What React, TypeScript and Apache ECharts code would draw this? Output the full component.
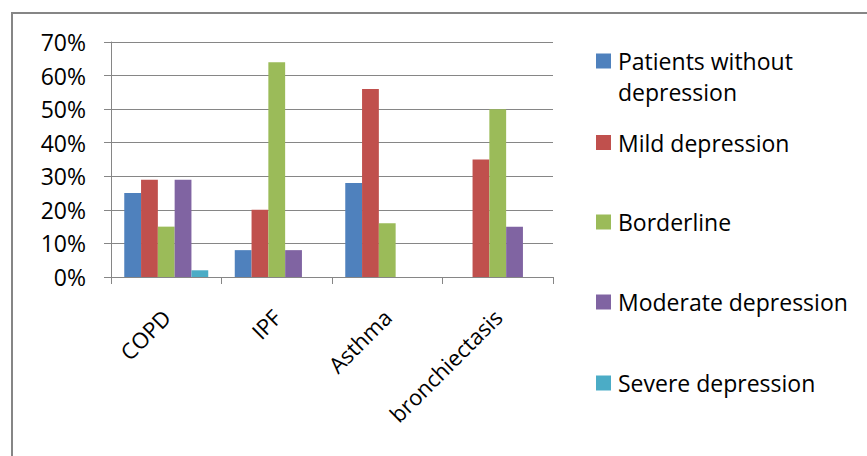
import React, { useEffect, useRef } from "react";
import * as echarts from "echarts";

const categories = ["COPD", "IPF", "Asthma", "bronchiectasis"];
const seriesNames = [
  "Patients without depression",
  "Mild depression",
  "Borderline",
  "Moderate depression",
  "Severe depression",
];
const withoutDepression = [25, 8, 28, 0];
const mildDepression = [29, 20, 56, 35];
const borderline = [15, 64, 16, 50];
const moderateDepression = [29, 8, 0, 15];
const severeDepression = [2, 0, 0, 0];
const yTicks = [0, 10, 20, 30, 40, 50, 60, 70];

const colors = ["#4F81BD", "#C0504D", "#9BBB59", "#8064A2", "#4BACC6"];
const FONT = "'Open Sans', sans-serif";

export default function App() {
  const ref = useRef<HTMLDivElement>(null);
  useEffect(() => {
    if (!ref.current) return;
    const chart = echarts.init(ref.current, null, { renderer: "svg" });
    const values = [
      withoutDepression,
      mildDepression,
      borderline,
      moderateDepression,
      severeDepression,
    ];
    const legendTops = [14.5, 127, 206.5, 286.5, 367.5];
    const legends = seriesNames.map((name, i) => ({
      data: [name],
      orient: "vertical",
      left: 596,
      top: legendTops[i],
      padding: 0,
      itemWidth: 15,
      itemHeight: 15,
      icon: "rect",
      selectedMode: false,
      formatter: i === 0 ? " \nPatients without\ndepression" : "{name}",
      textStyle: {
        fontFamily: FONT,
        fontSize: 23,
        color: "#000",
        lineHeight: 31,
        padding: [0, 0, 0, 2],
      },
    }));
    chart.setOption({
      animation: false,
      backgroundColor: "#fff",
      color: colors,
      graphic: [
        {
          type: "rect",
          shape: { x: 12, y: 13, width: 1000, height: 600 },
          style: { fill: "none", stroke: "#868686", lineWidth: 2 },
          silent: true,
        },
      ],
      legend: legends,
      grid: { left: 111, right: 314, top: 42, bottom: 179, containLabel: false },
      xAxis: {
        type: "category",
        data: categories,
        axisLine: { show: true, lineStyle: { color: "#868686", width: 1 } },
        axisTick: { show: true, length: 7, lineStyle: { color: "#868686" } },
        axisLabel: {
          rotate: 45,
          interval: 0,
          margin: 36,
          fontFamily: FONT,
          fontSize: 22,
          color: "#000",
        },
      },
      yAxis: {
        type: "value",
        min: yTicks[0],
        max: yTicks[yTicks.length - 1],
        interval: 10,
        axisLine: { show: true, lineStyle: { color: "#868686", width: 1 } },
        axisTick: { show: true, length: 7, lineStyle: { color: "#868686" } },
        splitLine: { show: true, lineStyle: { color: "#868686", width: 1 } },
        axisLabel: {
          formatter: "{value}%",
          margin: 25,
          fontFamily: FONT,
          fontSize: 23,
          color: "#000",
        },
      },
      series: seriesNames.map((name, i) => ({
        name,
        type: "bar",
        data: values[i],
        barGap: "0%",
        barCategoryGap: "24%",
        itemStyle: { color: colors[i] },
      })),
    });
    return () => chart.dispose();
  }, []);
  return (
    <div
      ref={ref}
      style={{ position: "fixed", left: 0, top: 0, width: 867, height: 456 }}
    />
  );
}
